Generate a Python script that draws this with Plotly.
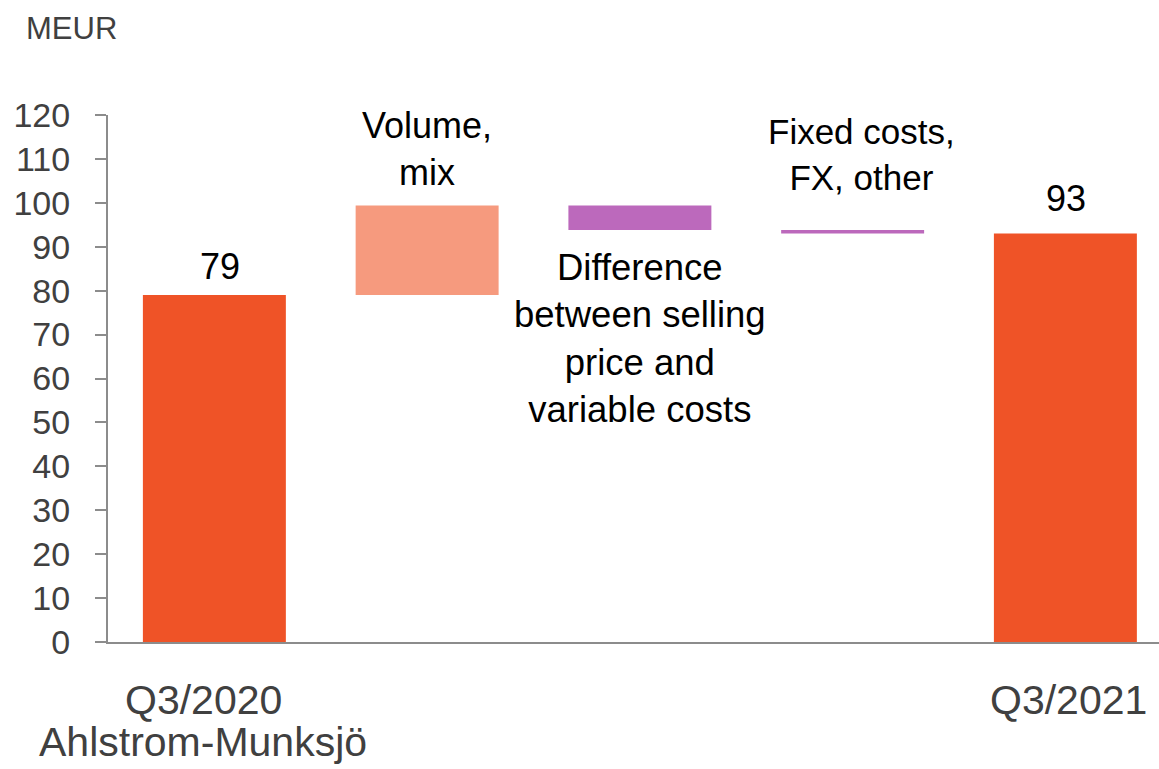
import plotly.graph_objects as go

# EBITDA bridge, MEUR
steps = ["Q3/2020", "Volume, mix", "Difference between selling price and variable costs",
         "Fixed costs, FX, other", "Q3/2021"]
measures = ["absolute", "relative", "relative", "relative", "total"]
values = [79.0, 20.4, -5.6, -0.8, 0.0]

tick_labels = ["Q3/2020", "Q3/2021"]
sub_label = "Ahlstrom-Munksjö"
step_notes = ["Volume,<br>mix",
              "Difference<br>between selling<br>price and<br>variable costs",
              "Fixed costs,<br>FX, other"]

ORANGE = "#EF5327"
SALMON = "#F69A7E"
PURPLE = "#BC69BC"
AXIS_GREY = "#8C8C8C"
TEXT_GREY = "#404040"
FONT = "Liberation Sans, Arial, sans-serif"

# running total for the end-bar labels
running = []
acc = 0.0
for m, v in zip(measures, values):
    if m == "absolute":
        acc = v
    elif m == "relative":
        acc += v
    running.append(acc)

x_pos = list(range(len(steps)))

fig = go.Figure(go.Waterfall(
    x=x_pos,
    y=values,
    measure=measures,
    increasing=dict(marker=dict(color=SALMON)),
    decreasing=dict(marker=dict(color=PURPLE)),
    totals=dict(marker=dict(color=ORANGE)),
    connector=dict(visible=False),
    showlegend=False,
    hoverinfo="skip",
))

annotations = []

# value labels above the start and end bars
label_shift = {0: (6, 6), 4: (1, 13)}
for i, m in enumerate(measures):
    if m in ("absolute", "total"):
        xs, ys = label_shift[i]
        annotations.append(dict(x=x_pos[i], y=running[i], xref="x", yref="y",
                                text=f"{running[i]:.0f}", showarrow=False,
                                xanchor="center", yanchor="bottom", xshift=xs, yshift=ys,
                                font=dict(family=FONT, size=36, color="black")))

# descriptive notes for the middle steps
note_pos = [(1, 112.3, 0, 36), (2, 69.0, 0, 36.5), (3, 111.1, 9, 35)]
for (xv, yv, xs, fs), txt in zip(note_pos, step_notes):
    annotations.append(dict(x=xv, y=yv, xref="x", yref="y", text=txt, showarrow=False,
                            xanchor="center", yanchor="middle", xshift=xs,
                            font=dict(family=FONT, size=fs, color="black")))

# category labels under the end bars
for xv, txt, xs in zip([0, 4], tick_labels, [-11, 3]):
    annotations.append(dict(x=xv, y=0, xref="x", yref="paper", text=txt, showarrow=False,
                            xanchor="center", yanchor="middle", yshift=-58, xshift=xs,
                            font=dict(family=FONT, size=41, color=TEXT_GREY)))
annotations.append(dict(x=0, y=0, xref="x", yref="paper", text=sub_label, showarrow=False,
                        xanchor="center", yanchor="middle", yshift=-100, xshift=-11,
                        font=dict(family=FONT, size=41, color=TEXT_GREY)))

# unit label
annotations.append(dict(x=0, y=1, xref="paper", yref="paper", text="MEUR", showarrow=False,
                        xanchor="left", yanchor="middle", xshift=-84, yshift=87,
                        font=dict(family=FONT, size=31, color=TEXT_GREY)))

fig.update_layout(
    width=1159, height=769,
    margin=dict(l=108, r=0, t=115, b=127),
    paper_bgcolor="white", plot_bgcolor="white",
    waterfallgap=0.328,
    annotations=annotations,
    font=dict(family=FONT, color=TEXT_GREY),
)
fig.update_xaxes(range=[-0.5, 4.44], showline=True, linecolor=AXIS_GREY, linewidth=2,
                 showgrid=False, zeroline=False, showticklabels=False, ticks="")
fig.update_yaxes(range=[0, 120], dtick=10, showline=True, linecolor=AXIS_GREY, linewidth=2,
                 ticks="outside", ticklen=11, tickwidth=2, tickcolor=AXIS_GREY,
                 showgrid=False, zeroline=False, ticklabelstandoff=18,
                 tickfont=dict(family=FONT, size=34, color=TEXT_GREY))

fig.write_html("out.html")
